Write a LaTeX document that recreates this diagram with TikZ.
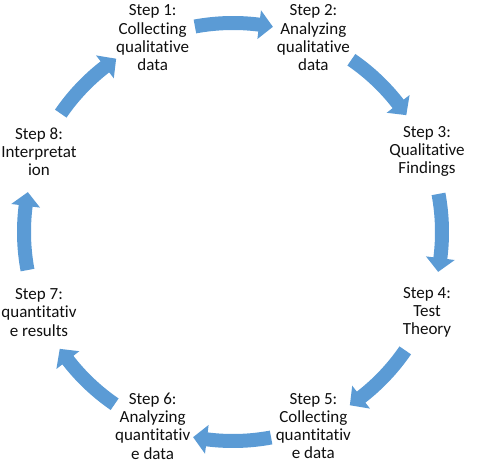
\documentclass[tikz,border=0pt]{standalone}
\usepackage{fontspec}
\setmainfont{Carlito}[Ligatures=NoCommon]
\usetikzlibrary{calc}
\definecolor{arrowblue}{RGB}{91,155,213}
\definecolor{txt}{RGB}{15,15,15}
\begin{document}
\begin{tikzpicture}[x=1pt,y=1pt,
  steplabel/.style={align=center,inner sep=0pt,text=txt,font=\fontsize{17}{18.3}\selectfont},
  cyclearrow/.style={fill=arrowblue,draw=none}]
\useasboundingbox (0,0) rectangle (481,465);
\coordinate (c) at (233,233);
% step labels
\node[steplabel] (s1) at ($(c)+(112.5:210)$) {Step 1:\\Collecting\\qualitative\\data};
\node[steplabel] (s2) at ($(c)+(67.5:210)$) {Step 2:\\Analyzing\\qualitative\\data};
\node[steplabel] (s3) at ($(c)+(22.5:210)$) {Step 3:\\Qualitative\\Findings};
\node[steplabel] (s4) at ($(c)+(-22.5:210)$) {Step 4:\\Test\\Theory};
\node[steplabel] (s5) at ($(c)+(-67.5:210)$) {Step 5:\\Collecting\\quantitativ\\e data};
\node[steplabel] (s6) at ($(c)+(-112.5:210)$) {Step 6:\\Analyzing\\quantitativ\\e data};
\node[steplabel] (s7) at ($(c)+(-157.5:210)$) {Step 7:\\quantitativ\\e results};
\node[steplabel] (s8) at ($(c)+(157.5:210)$) {Step 8:\\Interpretat\\ion};
% circular arrows between consecutive steps (clockwise)
\foreach \m in {90,45,0,-45,-90,-135,-180,-225}{
  \pgfmathsetmacro{\ta}{\m+10.5}
  \pgfmathsetmacro{\tb}{\m-7.2}
  \pgfmathsetmacro{\tt}{\m-11}
  \fill[cyclearrow]
    ($(c)+(\ta:216)$) arc[start angle=\ta, end angle=\tb, radius=216]
    -- ($(c)+(\tb:223.5)$)
    -- ($(c)+(\tt:209)$)
    -- ($(c)+(\tb:194.5)$)
    -- ($(c)+(\tb:202)$)
    arc[start angle=\tb, end angle=\ta, radius=202]
    -- cycle;
}
\end{tikzpicture}
\end{document}
